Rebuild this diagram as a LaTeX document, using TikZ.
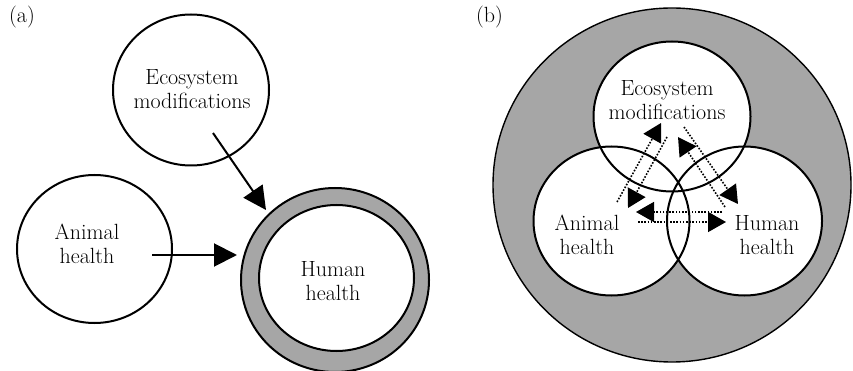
\documentclass[tikz,border=0pt]{standalone}
\usetikzlibrary{shapes.geometric,arrows.meta}
\definecolor{ringgray}{RGB}{166,166,166}
\tikzset{
  circ/.style={ellipse,draw=black,line width=2pt,inner sep=0pt},
  blank/.style={ellipse,inner sep=0pt,fill=white},
  lbl/.style={align=center,inner sep=0pt,font=\fontsize{22}{24.5}\selectfont},
  solidarrow/.style={line width=2pt,-{Triangle[length=23pt,width=23pt]}},
  dotarrow/.style={line width=1.6pt,dash pattern=on 1.6pt off 1.6pt,-{Triangle[length=18pt,width=20pt]}}
}
\begin{document}
\begin{tikzpicture}[x=1pt,y=-1pt]
\useasboundingbox (0,0) rectangle (853,371);
% ---------- panel (a)
\node[lbl,anchor=north west] (la) at (9,6) {(a)};
\node[circ,minimum width=156pt,minimum height=151pt] (ecoA) at (191,90) {};
\node[circ,minimum width=155pt,minimum height=148pt] (aniA) at (94.5,249) {};
\node[circ,fill=ringgray,minimum width=188pt,minimum height=184pt] (humOut) at (335,280) {};
\node[circ,fill=white,minimum width=155pt,minimum height=146pt] (humIn) at (336.5,278) {};
\node[lbl] (ecoAt) at (192,89) {Ecosystem\\modifications};
\node[lbl] (aniAt) at (87,244) {Animal\\health};
\node[lbl] (humAt) at (333,281) {Human\\health};
\coordinate (ea0) at (213,133);
\coordinate (ea1) at (266,210);
\coordinate (aa0) at (152,255);
\coordinate (aa1) at (237,255);
\draw[solidarrow] (ea0) -- (ea1);
\draw[solidarrow] (aa0) -- (aa1);
% ---------- panel (b)
\node[lbl,anchor=north west] (lb) at (476,6) {(b)};
\node[ellipse,draw=black,line width=1.4pt,fill=ringgray,inner sep=0pt,minimum width=358pt,minimum height=354pt] (world) at (672,185) {};
\node[blank,minimum width=157pt,minimum height=150pt] (ecoBf) at (672,116.5) {};
\node[blank,minimum width=156pt,minimum height=149pt] (aniBf) at (611.5,221) {};
\node[blank,minimum width=155pt,minimum height=149pt] (humBf) at (744.5,221) {};
\node[circ,minimum width=157pt,minimum height=150pt] (ecoB) at (672,116.5) {};
\node[circ,minimum width=156pt,minimum height=149pt] (aniB) at (611.5,221) {};
\node[circ,minimum width=155pt,minimum height=149pt] (humB) at (744.5,221) {};
\node[lbl] (ecoBt) at (667,100) {Ecosystem\\modifications};
\node[lbl] (aniBt) at (587,235) {Animal\\health};
\node[lbl] (humBt) at (767,235) {Human\\health};
% dotted arrows
\coordinate (p1s) at (617,202);
\coordinate (p1e) at (661,123);
\coordinate (p2s) at (667,137);
\coordinate (p2e) at (628,208);
\coordinate (p3s) at (725,207);
\coordinate (p3e) at (678,137);
\coordinate (p4s) at (684,127);
\coordinate (p4e) at (738,204);
\coordinate (p5s) at (722,212);
\coordinate (p5e) at (636,212);
\coordinate (p6s) at (638,222);
\coordinate (p6e) at (726,222);
\draw[dotarrow] (p1s) -- (p1e);
\draw[dotarrow] (p2s) -- (p2e);
\draw[dotarrow] (p3s) -- (p3e);
\draw[dotarrow] (p4s) -- (p4e);
\draw[dotarrow] (p5s) -- (p5e);
\draw[dotarrow] (p6s) -- (p6e);
\end{tikzpicture}
\end{document}
